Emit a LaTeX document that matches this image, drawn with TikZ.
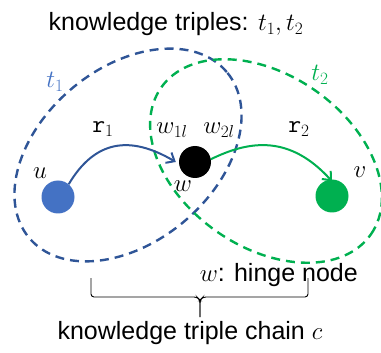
\documentclass[tikz,border=0pt]{standalone}
\usepackage{fontspec}
\setmainfont{Liberation Sans}
\usetikzlibrary{arrows.meta}
\definecolor{dblue}{HTML}{2F5597}
\definecolor{lblue}{HTML}{4472C4}
\definecolor{mgreen}{HTML}{00B050}
\begin{document}
\begin{tikzpicture}[x=1pt,y=-1pt,
  setline/.style={line width=2.4pt, dash pattern=on 9pt off 6pt},
  dot/.style={circle, minimum size=33pt, inner sep=0pt},
  rel/.style={line width=2pt, -{Straight Barb[length=7pt,width=12pt,line width=2pt]}},
  lab/.style={inner sep=0pt, font=\fontsize{25}{28}\selectfont},
  txt/.style={inner sep=0pt, font=\fontsize{25}{28}\selectfont}]
\useasboundingbox (0,0) rectangle (381,353);
% sets
\draw[setline, dblue, rotate around={40:(128,155)}] (128,155) ellipse [x radius=129pt, y radius=87pt];
\draw[setline, mgreen, rotate around={-35:(266,161)}] (266,161) ellipse [x radius=128pt, y radius=86pt];
% nodes
\node[dot, fill=lblue] (u) at (58,197) {};
\node[dot, fill=black, minimum size=32pt] (w) at (195,162) {};
\node[dot, fill=mgreen] (v) at (332,196) {};
% arrows
\draw[rel, dblue] (u.50) .. controls (95,140) and (130,135) .. ([xshift=-3pt]w.west);
\draw[rel, mgreen] (w.10) .. controls (250,140) and (290,135) .. ([yshift=-2pt]v.north);
% labels
\node[lab] (lu) at (40,173) {$u$};
\node[lab] (lw) at (183,186) {$w$};
\node[lab] (lv) at (360,172) {$v$};
\node[lab] (lw1) at (172,130) {$w_{1l}$};
\node[lab] (lw2) at (219,130) {$w_{2l}$};
\node[lab] (lr1) at (103,129) {$\mathtt{r}_1$};
\node[lab] (lr2) at (299,129) {$\mathtt{r}_2$};
\node[lab, text=lblue] (lt1) at (55,82) {$t_1$};
\node[lab, text=mgreen] (lt2) at (320,75) {$t_2$};
% texts
\node[txt] (title) at (176,24) {knowledge triples: $t_1,t_2$};
\node[txt, anchor=base east] (hinge) at (358,281) {$w$: hinge node};
\coordinate (bl) at (91,278);
\coordinate (br) at (308,278);
\coordinate (btip) at (200,317);
\draw[line width=0.9pt, rounded corners=3pt] (bl) -- (91,297) -- (197,297) -- (200,300) -- (btip);
\draw[line width=0.9pt, rounded corners=3pt] (br) -- (308,297) -- (203,297) -- (200,300) -- (btip);
\node[txt] (chain) at (190,333) {knowledge triple chain $c$};
\end{tikzpicture}
\end{document}
